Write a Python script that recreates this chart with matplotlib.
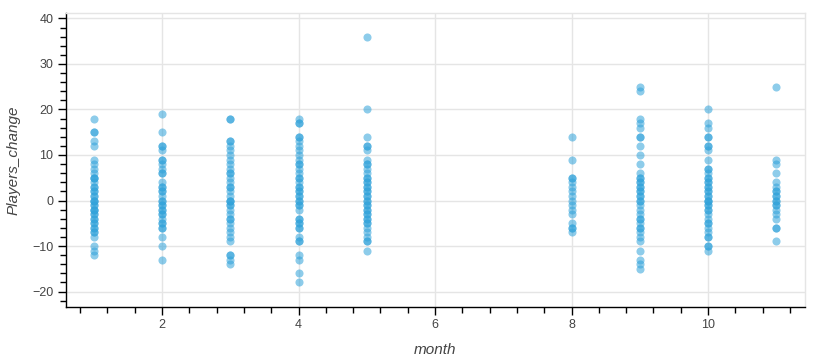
import matplotlib
matplotlib.use("Agg")
import matplotlib.pyplot as plt
from matplotlib.ticker import MultipleLocator
import numpy as np

plt.rcParams['font.family'] = ['Liberation Sans', 'DejaVu Sans']

m1 = [18, 15, 15, 13, 12, 9, 8, 7, 6, 5, 5, 5, 4, 3, 3, 2, 2, 1, 1, 0, 0, 0, -1, -1, -2, -2, -2,
      -3, -3, -4, -4, -5, -5, -6, -6, -7, -7, -8, -10, -11, -12]
m2 = [19, 15, 12, 12, 11, 9, 9, 8, 7, 6, 6, 4, 3, 3, 2, 2, 1, 0, 0, -1, -1, -2, -2, -3, -3, -4,
      -5, -5, -6, -6, -8, -10, -13]
m3 = [18, 18, 13, 13, 12, 11, 10, 9, 8, 7, 6, 6, 5, 4, 3, 3, 2, 1, 0, 0, 0, -1, -1, -2, -3, -4,
      -4, -5, -6, -7, -8, -9, -12, -12, -13, -14]
m4 = [18, 17, 17, 14, 14, 13, 12, 11, 10, 9, 8, 8, 7, 6, 5, 5, 4, 3, 3, 2, 2, 1, 1, 0, 0, -1, -1,
      -2, -4, -4, -5, -5, -6, -6, -8, -9, -9, -12, -13, -16, -18]
m5 = [36, 20, 14, 12, 12, 11, 9, 8, 8, 7, 6, 5, 5, 4, 4, 3, 3, 2, 2, 1, 1, 0, 0, -1, -1, -2, -2,
      -3, -3, -4, -4, -5, -5, -6, -7, -8, -9, -9, -11]
m8 = [14, 9, 5, 5, 4, 3, 2, 1, 0, -1, -2, -3, -5, -6, -6, -7]
m9 = [25, 24, 18, 17, 16, 14, 14, 12, 10, 8, 6, 5, 5, 4, 4, 3, 3, 2, 2, 1, 1, 0, 0, -1, -2, -3,
      -4, -4, -5, -6, -6, -7, -8, -9, -11, -13, -14, -15]
m10 = [20, 17, 16, 14, 14, 12, 12, 11, 9, 7, 7, 6, 5, 5, 4, 4, 3, 3, 2, 2, 1, 1, 0, 0, 0, -1, -1,
       -2, -2, -3, -4, -5, -5, -6, -7, -8, -8, -10, -10, -11]
m11 = [25, 9, 8, 6, 4, 3, 2, 2, 1, 1, 0, 0, -1, -1, -2, -3, -4, -6, -6, -9]

months = [1, 2, 3, 4, 5, 8, 9, 10, 11]
values = [m1, m2, m3, m4, m5, m8, m9, m10, m11]

xs = np.concatenate([[m] * len(v) for m, v in zip(months, values)])
ys = np.concatenate(values)

fig = plt.figure(figsize=(8.4, 3.6), dpi=100)
ax = fig.add_axes([66 / 840, 1 - 307 / 360, (805 - 66) / 840, (307 - 13) / 360])

ax.scatter(xs, ys, s=34, color='#30a2da', alpha=0.55, linewidths=0, zorder=3)

ax.set_xlim(0.593, 11.42)
ax.set_ylim(-23.4, 41.2)

ax.xaxis.set_major_locator(MultipleLocator(2))
ax.xaxis.set_minor_locator(MultipleLocator(0.4))
ax.yaxis.set_major_locator(MultipleLocator(10))
ax.yaxis.set_minor_locator(MultipleLocator(2))

ax.grid(True, which='major', color='#e5e5e5', linewidth=1, zorder=0)
ax.set_axisbelow(True)

for s in ['top', 'right']:
    ax.spines[s].set_color('#e5e5e5')
    ax.spines[s].set_linewidth(1)
for s in ['left', 'bottom']:
    ax.spines[s].set_color('black')
    ax.spines[s].set_linewidth(1)

ax.tick_params(which='major', direction='out', length=6, width=1, color='black',
               labelsize=9, labelcolor='#444444', pad=3)
ax.tick_params(which='minor', direction='out', length=4, width=1, color='black')

ax.set_xlabel('month', fontsize=11, fontstyle='italic', color='#444444', labelpad=8)
ax.set_ylabel('Players_change', fontsize=11, fontstyle='italic', color='#444444')
ax.yaxis.set_label_coords(-0.061, 0.5)

fig.savefig('out.png', dpi=100)
